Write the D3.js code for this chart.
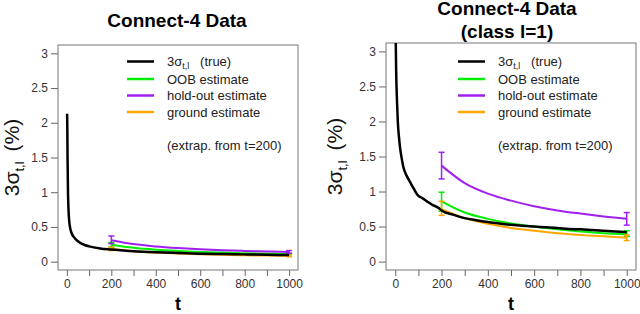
<!DOCTYPE html>
<html>
<head>
<meta charset="utf-8">
<script src="https://cdn.jsdelivr.net/npm/d3@7"></script>
<style>
  body { margin: 0; background: #fff; }
  svg { display: block; font-family: "Liberation Sans", Arial, sans-serif; }
  .tick text { fill: #333; font-size: 12px; }
  .tick line, .domain { stroke: #666; }
</style>
</head>
<body>
<svg id="chart" width="640" height="314"></svg>
<script>
// ---- data ----
const tTicks = [0, 100, 200, 300, 400, 500, 600, 700, 800, 900, 1000];
const yTicks = [0, 0.5, 1, 1.5, 2, 2.5, 3];
const tEst = [200, 300, 400, 500, 600, 700, 800, 900, 1000];

// left panel: all classes
const allTrueT = [1, 2, 3, 5, 8, 10, 15, 20, 30, 40, 60, 80, 100, 150, 200, 300, 400, 500, 600, 700, 800, 900, 1000];
const allTrueV = [2.13, 1.9, 1.5, 1.0, 0.7, 0.6, 0.48, 0.42, 0.36, 0.32, 0.27, 0.24, 0.22, 0.19, 0.175, 0.15, 0.135, 0.125, 0.115, 0.11, 0.105, 0.10, 0.095];
const allOOB = [0.245, 0.2, 0.173, 0.155, 0.141, 0.131, 0.122, 0.115, 0.11];
const allHold = [0.31, 0.253, 0.219, 0.196, 0.179, 0.166, 0.155, 0.146, 0.139];
const allGround = [0.185, 0.151, 0.131, 0.117, 0.107, 0.099, 0.092, 0.087, 0.083];
const allErr = {
  oob: [[0.21, 0.275], [0.10, 0.12]],
  hold: [[0.26, 0.37], [0.12, 0.16]],
  ground: [[0.16, 0.21], [0.07, 0.10]]
};

// right panel: class l=1
const c1TrueT = [1, 4, 8, 11, 16, 21, 28, 35, 50, 65, 80, 99, 115, 137, 160, 185, 200, 250, 300, 350, 400, 450, 500, 550, 600, 650, 700, 750, 800, 850, 900, 950, 1000];
const c1TrueV = [3.4, 2.7, 2.25, 2.0, 1.78, 1.62, 1.47, 1.35, 1.22, 1.13, 1.04, 0.94, 0.91, 0.86, 0.81, 0.77, 0.73, 0.67, 0.62, 0.59, 0.565, 0.545, 0.525, 0.51, 0.5, 0.49, 0.48, 0.465, 0.46, 0.45, 0.44, 0.43, 0.42];
const c1OOB = [0.86, 0.70, 0.61, 0.545, 0.50, 0.46, 0.43, 0.405, 0.39];
const c1Hold = [1.37, 1.12, 0.97, 0.87, 0.79, 0.73, 0.685, 0.645, 0.61];
const c1Ground = [0.75, 0.62, 0.54, 0.48, 0.44, 0.405, 0.38, 0.36, 0.34];
const c1Err = {
  oob: [[0.72, 0.99], [0.36, 0.44]],
  hold: [[1.18, 1.56], [0.52, 0.70]],
  ground: [[0.66, 0.86], [0.30, 0.38]]
};

const colors = { truth: '#000', oob: '#00ee00', hold: '#a020f0', ground: '#ffa500' };

const svg = d3.select('#chart');

function drawPanel(opt) {
  const g = svg.append('g');
  const x = d3.scaleLinear().domain([-40, 1040]).range([opt.left, opt.right]);
  const y = d3.scaleLinear().domain([-0.12, 3.12]).range([opt.bottom, opt.top]);

  // clip for the curves
  g.append('clipPath').attr('id', opt.id + '-clip')
    .append('rect')
      .attr('x', opt.left).attr('y', opt.top)
      .attr('width', opt.right - opt.left).attr('height', opt.bottom - opt.top);

  // axes
  g.append('g')
    .attr('transform', 'translate(0,' + opt.bottom + ')')
    .call(d3.axisBottom(x).tickValues(tTicks).tickSize(6).tickPadding(3)
      .tickFormat(d => d % 200 === 0 ? d : ''))
    .call(a => a.select('.domain').remove());

  g.append('g')
    .attr('transform', 'translate(' + opt.left + ',0)')
    .call(d3.axisLeft(y).tickValues(yTicks).tickSize(7).tickPadding(3)
      .tickFormat(d => d))
    .call(a => a.select('.domain').remove());

  // box
  g.append('rect')
    .attr('x', opt.left).attr('y', opt.top)
    .attr('width', opt.right - opt.left).attr('height', opt.bottom - opt.top)
    .attr('fill', 'none').attr('stroke', '#777').attr('stroke-width', 1);

  const line = d3.line().x(d => x(d[0])).y(d => y(d[1])).curve(d3.curveMonotoneX);
  const plot = g.append('g').attr('clip-path', 'url(#' + opt.id + '-clip)');

  const est = [['oob', opt.oob], ['hold', opt.hold], ['ground', opt.ground]];
  est.forEach(function(e) {
    plot.append('path')
      .datum(tEst.map((t, i) => [t, e[1][i]]))
      .attr('d', line)
      .attr('fill', 'none')
      .attr('stroke', colors[e[0]])
      .attr('stroke-width', 2);

    // error bars at t=200 and t=1000
    [200, 1000].forEach(function(t, k) {
      const r = opt.err[e[0]][k];
      const eb = plot.append('g').attr('stroke', colors[e[0]]).attr('stroke-width', 1.5);
      eb.append('line').attr('x1', x(t)).attr('x2', x(t)).attr('y1', y(r[0])).attr('y2', y(r[1]));
      eb.append('line').attr('x1', x(t) - 3).attr('x2', x(t) + 3).attr('y1', y(r[0])).attr('y2', y(r[0]));
      eb.append('line').attr('x1', x(t) - 3).attr('x2', x(t) + 3).attr('y1', y(r[1])).attr('y2', y(r[1]));
    });
  });

  plot.append('path')
    .datum(opt.trueT.map((t, i) => [t, opt.trueV[i]]))
    .attr('d', line)
    .attr('fill', 'none')
    .attr('stroke', colors.truth)
    .attr('stroke-width', 2.5);

  // titles
  const cx = (opt.left + opt.right) / 2;
  opt.title.forEach(function(s, i) {
    g.append('text')
      .attr('x', cx - opt.titleShift).attr('y', opt.titleY + i * 23)
      .attr('text-anchor', 'middle')
      .attr('font-size', 19).attr('font-weight', 'bold')
      .text(s);
  });

  // x label
  g.append('text')
    .attr('x', x(500)).attr('y', 310)
    .attr('text-anchor', 'middle')
    .attr('font-size', 18).attr('font-weight', 'bold')
    .text('t');

  // y label
  const yl = g.append('text')
    .attr('transform', 'translate(' + opt.ylabX + ',' + ((opt.top + opt.bottom) / 2) + ') rotate(-90)')
    .attr('text-anchor', 'middle')
    .attr('font-size', 21)
    .attr('fill', '#111');
  yl.append('tspan').text('3σ');
  yl.append('tspan').attr('font-size', 13).attr('dy', 5).text('t,l');
  yl.append('tspan').attr('dy', -5).text('\u2009 (%)');

  // legend
  const leg = g.append('g').attr('font-size', 13).attr('fill', '#222');
  const rows = [['truth', null], ['oob', 'OOB estimate'], ['hold', 'hold-out estimate'], ['ground', 'ground estimate']];
  const rowY = [61.5, 79, 95.5, 112];
  rows.forEach(function(r, i) {
    leg.append('line')
      .attr('x1', opt.legX).attr('x2', opt.legX + 27)
      .attr('y1', rowY[i]).attr('y2', rowY[i])
      .attr('stroke', colors[r[0]]).attr('stroke-width', 2.5);
    const t = leg.append('text').attr('x', opt.legX + 40).attr('y', rowY[i] + 4.5);
    if (r[1] === null) {
      t.append('tspan').text('3σ');
      t.append('tspan').attr('font-size', 9).attr('dy', 3).text('t,l');
      t.append('tspan').attr('dy', -3).text('\u00a0\u00a0 (true)');
    } else {
      t.text(r[1]);
    }
  });
  leg.append('text')
    .attr('x', opt.legX + 40).attr('y', 150)
    .text('(extrap. from t=200)');
}

drawPanel({
  id: 'all', left: 58, right: 298, top: 45, bottom: 270,
  title: ['Connect-4 Data'], titleY: 27, titleShift: 1,
  ylabX: 19, legX: 127,
  trueT: allTrueT, trueV: allTrueV,
  oob: allOOB, hold: allHold, ground: allGround, err: allErr
});

drawPanel({
  id: 'c1', left: 386, right: 636, top: 43, bottom: 270,
  title: ['Connect-4 Data', '(class l=1)'], titleY: 15, titleShift: 4,
  ylabX: 342, legX: 458,
  trueT: c1TrueT, trueV: c1TrueV,
  oob: c1OOB, hold: c1Hold, ground: c1Ground, err: c1Err
});
</script>
</body>
</html>
